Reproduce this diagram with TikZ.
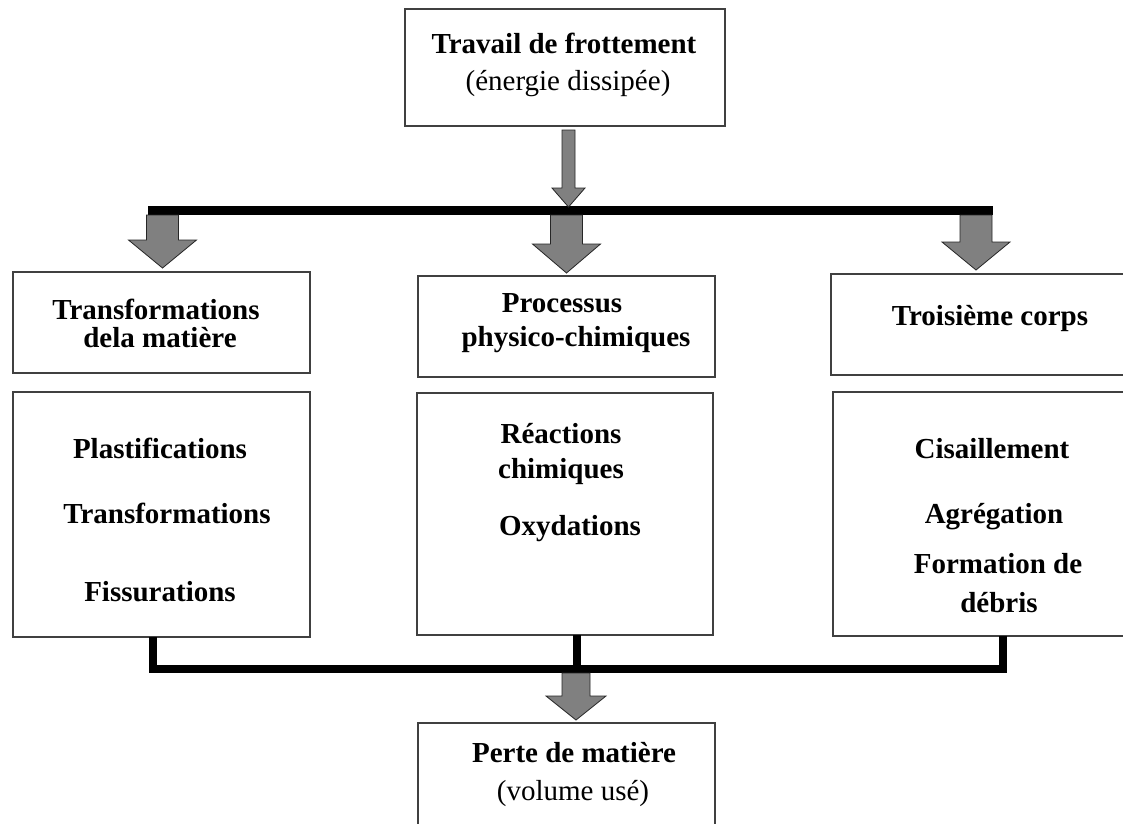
\documentclass[tikz,border=0pt]{standalone}
\usepackage{fontspec}
\setmainfont{Liberation Serif}
\usetikzlibrary{calc}

\tikzstyle{box} = [rectangle, draw=black!75, line width=1.2pt, inner sep=0pt]
\tikzstyle{title} = [font=\fontsize{29}{34}\selectfont\bfseries, anchor=base, inner sep=0pt]
\tikzstyle{note} = [font=\fontsize{29}{34}\selectfont, anchor=base, inner sep=0pt]
\tikzstyle{bus} = [line width=9pt, line join=miter]
\tikzset{
  fat/.style n args={3}{fill=black!50, draw=black!85, line width=0.8pt, line join=miter,
    to path={let \p1=(\tikztostart), \p2=(\tikztotarget) in
      (\x1-#1,\y1) -- (\x1-#1,\y2+#3) -- (\x1-#2,\y2+#3) -- (\x2,\y2)
      -- (\x1+#2,\y2+#3) -- (\x1+#1,\y2+#3) -- (\x1+#1,\y1) -- cycle}}
}

\begin{document}
\begin{tikzpicture}[x=1pt, y=-1pt]

\clip (0,0) rectangle (1123,823);
\fill[white] (0,0) rectangle (1123,823);

% boxes
\node (topbox) [box, minimum width=320pt, minimum height=117pt] at (565,67.5) {};
\node (lefthead) [box, minimum width=297pt, minimum height=101pt] at (161.5,322.5) {};
\node (midhead) [box, minimum width=297pt, minimum height=101pt] at (566.5,326.5) {};
\node (righthead) [box, minimum width=304pt, minimum height=101pt] at (983,324.5) {};
\node (leftlist) [box, minimum width=297pt, minimum height=245pt] at (161.5,514.5) {};
\node (midlist) [box, minimum width=296pt, minimum height=242pt] at (565,514) {};
\node (rightlist) [box, minimum width=302pt, minimum height=244pt] at (984,514) {};
\node (lossbox) [box, minimum width=297pt, minimum height=112pt] at (566.5,779) {};

% texts
\node (work) [title] at (564,53) {Travail de frottement};
\node (workb) [note] at (568,90) {(énergie dissipée)};

\node (transf) [title] at (156,319) {Transformations};
\node (transfb) [title] at (160,347) {dela matière};
\node (proc) [title] at (562,312) {Processus};
\node (procb) [title] at (576,346) {physico-chimiques};
\node (third) [title] at (990,325) {Troisième corps};

\node (plast) [title] at (160,458) {Plastifications};
\node (trans) [title] at (167,523) {Transformations};
\node (fiss) [title] at (160,601) {Fissurations};

\node (react) [title] at (561,443) {Réactions};
\node (reactb) [title] at (561,478) {chimiques};
\node (oxyd) [title] at (570,535) {Oxydations};

\node (shear) [title] at (992,458) {Cisaillement};
\node (aggr) [title] at (994,523) {Agrégation};
\node (debr) [title] at (998,573) {Formation de};
\node (debrb) [title] at (999,612) {débris};

\node (loss) [title] at (574,762) {Perte de matière};
\node (lossb) [note] at (573,800) {(volume usé)};

% bus lines
\coordinate (busL) at (148,210.5);
\coordinate (busR) at (993,210.5);
\draw[bus] (busL) -- (busR);

\coordinate (jL) at (153,637);
\coordinate (jM) at (577,635);
\coordinate (jR) at (1002.5,636);
\coordinate (jMb) at (577,669);
\draw[bus, line width=8pt] (jL) |- (jMb) -| (jR);
\draw[bus, line width=8pt] (jM) -- (jMb);

% arrows
\coordinate (a0) at (568.5,130);
\coordinate (a0t) at (568.5,207);
\draw[fat={6.5pt}{16.5pt}{19pt}] (a0) to (a0t);

\coordinate (a1) at (162.5,215);
\coordinate (a1t) at (162.5,268);
\draw[fat={16pt}{34pt}{28pt}] (a1) to (a1t);

\coordinate (a2) at (566.5,215);
\coordinate (a2t) at (566.5,273);
\draw[fat={16pt}{34pt}{29pt}] (a2) to (a2t);

\coordinate (a3) at (976,215);
\coordinate (a3t) at (976,270);
\draw[fat={16pt}{34pt}{28pt}] (a3) to (a3t);

\coordinate (a4) at (576,673);
\coordinate (a4t) at (576,720);
\draw[fat={14pt}{30pt}{24pt}] (a4) to (a4t);

\end{tikzpicture}
\end{document}
